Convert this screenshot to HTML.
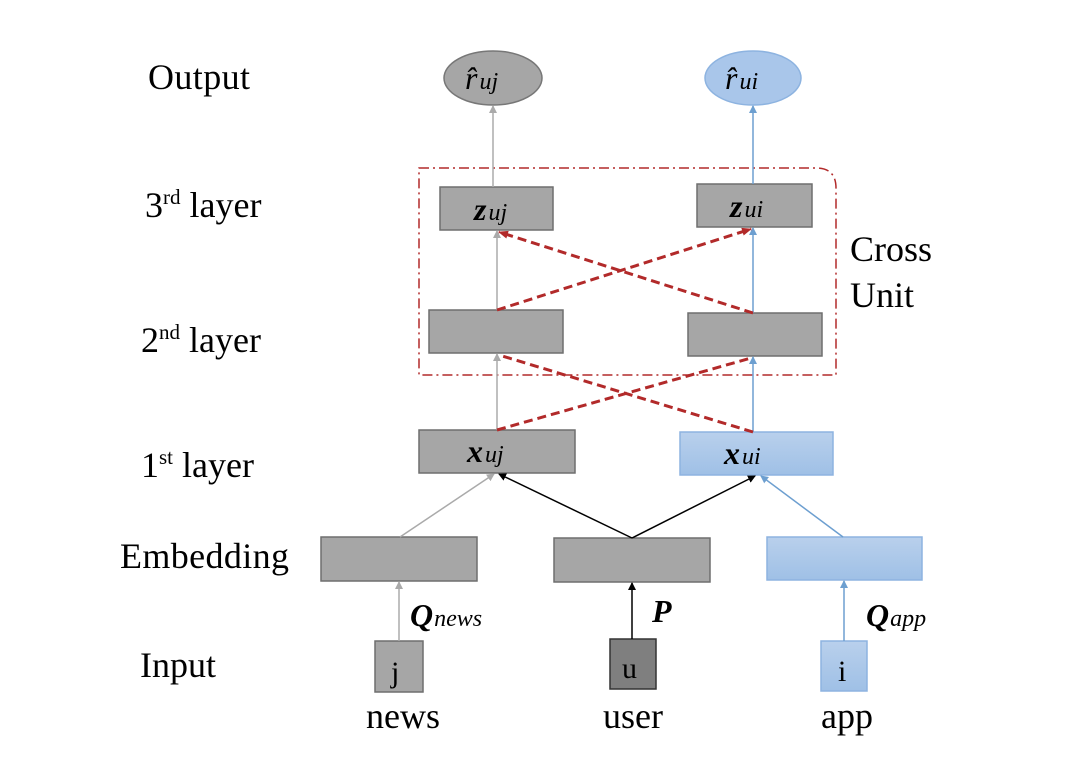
<!DOCTYPE html>
<html><head><meta charset="utf-8"><style>
body{margin:0;background:#fff;width:1080px;height:768px;overflow:hidden}
svg text{font-family:"Liberation Serif",serif}
</style></head><body>
<svg width="1080" height="768" viewBox="0 0 1080 768">
<defs>
<marker id="ag" markerWidth="8" markerHeight="8" refX="7" refY="4" orient="auto" markerUnits="userSpaceOnUse"><path d="M0,0L8,4L0,8z" fill="#aaa"/></marker>
<marker id="ab" markerWidth="8" markerHeight="8" refX="7" refY="4" orient="auto" markerUnits="userSpaceOnUse"><path d="M0,0L8,4L0,8z" fill="#6d9fd0"/></marker>
<marker id="ak" markerWidth="8" markerHeight="8" refX="7" refY="4" orient="auto" markerUnits="userSpaceOnUse"><path d="M0,0L8,4L0,8z" fill="#000"/></marker>
<marker id="ar" markerWidth="10" markerHeight="10" refX="9" refY="5" orient="auto" markerUnits="userSpaceOnUse"><path d="M0,1L10,5L0,9z" fill="#b22a2a"/></marker>
<linearGradient id="bg" x1="0" y1="0" x2="0" y2="1"><stop offset="0" stop-color="#b9d0ec"/><stop offset="1" stop-color="#9fc0e6"/></linearGradient>
</defs>
<g font-size="36" fill="#000">
<text x="148" y="89" textLength="102">Output</text>
<text x="145" y="217">3<tspan font-size="21" dy="-13">rd</tspan><tspan dy="13"> layer</tspan></text>
<text x="141" y="352">2<tspan font-size="21" dy="-13">nd</tspan><tspan dy="13"> layer</tspan></text>
<text x="141" y="477">1<tspan font-size="21" dy="-13">st</tspan><tspan dy="13"> layer</tspan></text>
<text x="120" y="568" textLength="169">Embedding</text>
<text x="140" y="677">Input</text>
<text x="366" y="728">news</text>
<text x="603" y="728">user</text>
<text x="821" y="728">app</text>
<text x="850" y="261">Cross</text>
<text x="850" y="307">Unit</text>
</g>
<path d="M419,168 H816 Q836,168 836,188 V375 H419 Z" fill="none" stroke="#b22a2a" stroke-width="1.5" stroke-dasharray="10,4,2,4"/>
<ellipse cx="493" cy="78" rx="49" ry="27" fill="#a6a6a6" stroke="#777" stroke-width="1.5"/>
<ellipse cx="753" cy="78" rx="48" ry="27" fill="#a9c6ea" stroke="#8db3e0" stroke-width="1.5"/>
<text x="465" y="89" font-size="32" font-style="italic">r̂<tspan font-size="24" dx="2">uj</tspan></text>
<text x="725" y="89" font-size="32" font-style="italic">r̂<tspan font-size="24" dx="2">ui</tspan></text>
<g stroke="#6f6f6f" stroke-width="1.5" fill="#a6a6a6">
<rect x="440" y="187" width="113" height="43"/>
<rect x="697" y="184" width="115" height="43"/>
<rect x="429" y="310" width="134" height="43"/>
<rect x="688" y="313" width="134" height="43"/>
<rect x="419" y="430" width="156" height="43"/>
<rect x="321" y="537" width="156" height="44"/>
<rect x="554" y="538" width="156" height="44"/>
<rect x="375" y="641" width="48" height="51"/>
<rect x="610" y="639" width="46" height="50" fill="#7f7f7f" stroke="#333"/>
</g>
<g stroke="#8db3e0" stroke-width="1.5" fill="url(#bg)">
<rect x="680" y="432" width="153" height="43"/>
<rect x="767" y="537" width="155" height="43"/>
<rect x="821" y="641" width="46" height="50"/>
</g>
<g font-size="32" font-style="italic" font-weight="bold">
<text x="474" y="220">z<tspan font-size="24" font-weight="normal" dx="2">uj</tspan></text>
<text x="730" y="217">z<tspan font-size="24" font-weight="normal" dx="2">ui</tspan></text>
<text x="467" y="462">x<tspan font-size="24" font-weight="normal" dx="2">uj</tspan></text>
<text x="724" y="464">x<tspan font-size="24" font-weight="normal" dx="2">ui</tspan></text>
<text x="410" y="626">Q<tspan font-size="24" font-weight="normal" dx="1">news</tspan></text>
<text x="652" y="622">P</text>
<text x="866" y="626">Q<tspan font-size="24" font-weight="normal" dx="1">app</tspan></text>
</g>
<g font-size="30"><text x="391" y="682">j</text><text x="622" y="678">u</text><text x="838" y="681">i</text></g>
<g stroke-width="1.5" fill="none">
<line x1="493" y1="187" x2="493" y2="106" stroke="#aaa" marker-end="url(#ag)"/>
<line x1="497" y1="310" x2="497" y2="231" stroke="#aaa" marker-end="url(#ag)"/>
<line x1="497" y1="430" x2="497" y2="354" stroke="#aaa" marker-end="url(#ag)"/>
<line x1="753" y1="184" x2="753" y2="106" stroke="#6d9fd0" marker-end="url(#ab)"/>
<line x1="753" y1="313" x2="753" y2="228" stroke="#6d9fd0" marker-end="url(#ab)"/>
<line x1="753" y1="432" x2="753" y2="357" stroke="#6d9fd0" marker-end="url(#ab)"/>
<line x1="400" y1="537" x2="494" y2="474" stroke="#aaa" marker-end="url(#ag)"/>
<line x1="632" y1="538" x2="499" y2="474" stroke="#000" marker-end="url(#ak)"/>
<line x1="632" y1="538" x2="755" y2="476" stroke="#000" marker-end="url(#ak)"/>
<line x1="843" y1="537" x2="761" y2="476" stroke="#6d9fd0" marker-end="url(#ab)"/>
<line x1="399" y1="641" x2="399" y2="582" stroke="#aaa" marker-end="url(#ag)"/>
<line x1="632" y1="639" x2="632" y2="583" stroke="#000" marker-end="url(#ak)"/>
<line x1="844" y1="641" x2="844" y2="581" stroke="#6d9fd0" marker-end="url(#ab)"/>
</g>
<g stroke="#b22a2a" stroke-width="3" stroke-dasharray="9,5" fill="none">
<line x1="497" y1="310" x2="751" y2="229" marker-end="url(#ar)"/>
<line x1="753" y1="313" x2="499" y2="232" marker-end="url(#ar)"/>
<line x1="497" y1="430" x2="751" y2="358"/>
<line x1="753" y1="432" x2="499" y2="355"/>
</g>
</svg>
</body></html>
